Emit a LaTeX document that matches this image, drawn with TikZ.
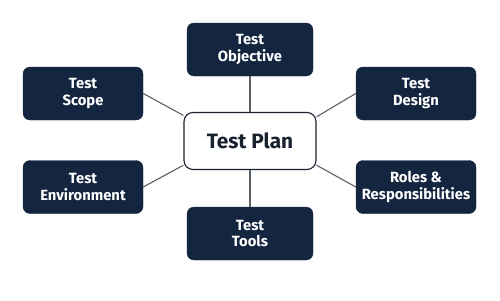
\documentclass[tikz,border=0pt]{standalone}
\usepackage{fontspec}
\setmainfont{Fira Sans}
\definecolor{navy}{HTML}{14253F}
\definecolor{ink}{HTML}{18212E}
\definecolor{wire}{HTML}{5A5F66}
\begin{document}
\begin{tikzpicture}[x=1pt,y=-1pt,
  leaf/.style={draw=navy,fill=navy,rounded corners=7pt,text=white,font=\bfseries\fontsize{14.8}{16.8}\selectfont,align=center,inner sep=0pt},
  hub/.style={draw=ink,line width=1.1pt,fill=white,rounded corners=9pt,text=ink,font=\bfseries\fontsize{20.8}{24}\selectfont,minimum width=132pt,minimum height=57pt,inner sep=0pt},
  wirestyle/.style={draw=wire,line width=1.1pt}]
\useasboundingbox (0,0) rectangle (500,300);
\node[hub] (plan) at (250,141) {Test Plan};
\node[leaf,minimum width=126pt,minimum height=53pt] (obj) at (250,49.5) {Test\\Objective};
\node[leaf,minimum width=126pt,minimum height=53pt] (tools) at (250,233.5) {Test\\Tools};
\node[leaf,minimum width=120pt,minimum height=53pt] (scope) at (83,93.5) {Test\\Scope};
\node[leaf,minimum width=120pt,minimum height=53pt] (env) at (83,187) {Test\\Environment};
\node[leaf,minimum width=120pt,minimum height=53pt] (design) at (416,93.5) {Test\\Design};
\node[leaf,minimum width=120pt,minimum height=53pt] (roles) at (416,187) {Roles \&\\Responsibilities};
\draw[wirestyle] (obj.south) -- (plan.north);
\draw[wirestyle] (plan.south) -- (tools.north);
\draw[wirestyle] (scope.east) -- (plan.159);
\draw[wirestyle] (env.east) -- (plan.200);
\draw[wirestyle] (design.west) -- (plan.20);
\draw[wirestyle] (roles.west) -- (plan.-20);
\end{tikzpicture}
\end{document}
